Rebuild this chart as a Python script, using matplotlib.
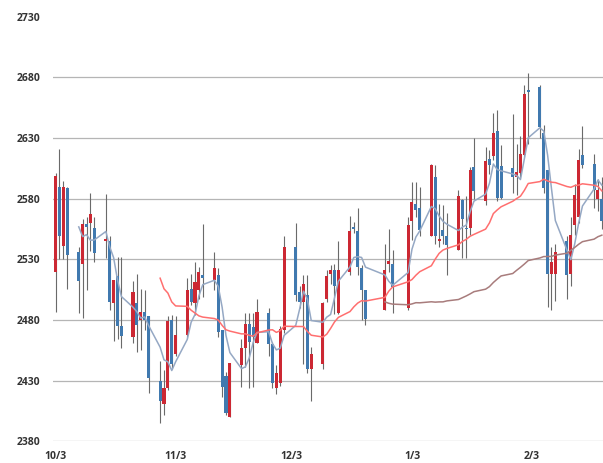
import numpy as np
import pandas as pd
import matplotlib
matplotlib.use("Agg")
import matplotlib.pyplot as plt
import matplotlib.dates as mdates

# daily candles (Oct 3 - Feb 21)
dates = ["2023-10-03", "2023-10-04", "2023-10-05", "2023-10-06",
         "2023-10-09", "2023-10-10", "2023-10-11", "2023-10-12", "2023-10-13",
         "2023-10-16", "2023-10-17", "2023-10-18", "2023-10-19", "2023-10-20",
         "2023-10-23", "2023-10-24", "2023-10-25", "2023-10-26", "2023-10-27",
         "2023-10-30", "2023-10-31", "2023-11-01", "2023-11-02", "2023-11-03",
         "2023-11-06", "2023-11-07", "2023-11-08", "2023-11-09", "2023-11-10",
         "2023-11-13", "2023-11-14", "2023-11-15", "2023-11-16", "2023-11-17",
         "2023-11-20", "2023-11-21", "2023-11-22", "2023-11-23", "2023-11-24",
         "2023-11-27", "2023-11-28", "2023-11-29", "2023-11-30", "2023-12-01",
         "2023-12-04", "2023-12-05", "2023-12-06", "2023-12-07", "2023-12-08",
         "2023-12-11", "2023-12-12", "2023-12-13", "2023-12-14", "2023-12-15",
         "2023-12-18", "2023-12-19", "2023-12-20", "2023-12-21", "2023-12-22",
         "2023-12-27", "2023-12-28", "2023-12-29",
         "2024-01-02", "2024-01-03", "2024-01-04", "2024-01-05",
         "2024-01-08", "2024-01-09", "2024-01-10", "2024-01-11", "2024-01-12",
         "2024-01-15", "2024-01-16", "2024-01-17", "2024-01-18", "2024-01-19",
         "2024-01-22", "2024-01-23", "2024-01-24", "2024-01-25", "2024-01-26",
         "2024-01-29", "2024-01-30", "2024-01-31", "2024-02-01", "2024-02-02",
         "2024-02-05", "2024-02-06", "2024-02-07", "2024-02-08", "2024-02-09",
         "2024-02-12", "2024-02-13", "2024-02-14", "2024-02-15", "2024-02-16",
         "2024-02-19", "2024-02-20", "2024-02-21"]

opens = [2520, 2590, 2541, 2589,
         2536, 2526, 2559, 2560, 2556,
         2545, 2545, 2494, 2516, 2475,
         2466, 2494, 2480, 2487, 2483,
         2430, 2411, 2424, 2480, 2452,
         2468, 2506, 2494, 2505, 2517,
         2513, 2517, 2472, 2434, 2400,
         2443, 2457, 2477, 2474, 2461,
         2486, 2460, 2424, 2428, 2472,
         2540, 2503, 2495, 2501, 2440,
         2444, 2497, 2518, 2521, 2486,
         2520, 2557, 2553, 2523, 2505,
         2488, 2526, 2526,
         2490, 2562, 2576, 2572,
         2549, 2598, 2545, 2554, 2549,
         2538, 2579, 2556, 2556, 2606,
         2578, 2613, 2615, 2636, 2607,
         2605, 2598, 2601, 2616, 2670,
         2672, 2634, 2604, 2518, 2518,
         2545, 2518, 2558, 2565, 2616,
         2609, 2580, 2580]

highs = [2601, 2621, 2595, 2590,
         2540, 2563, 2565, 2585, 2565,
         2584, 2549, 2513, 2532, 2532,
         2512, 2518, 2506, 2505, 2483,
         2446, 2439, 2483, 2484, 2483,
         2515, 2518, 2528, 2524, 2559,
         2536, 2523, 2472, 2437, 2445,
         2464, 2486, 2486, 2486, 2497,
         2490, 2462, 2443, 2475, 2549,
         2560, 2508, 2517, 2517, 2458,
         2495, 2521, 2525, 2526, 2545,
         2566, 2561, 2572, 2525, 2505,
         2543, 2555, 2538,
         2565, 2594, 2594, 2590,
         2609, 2608, 2576, 2575, 2568,
         2587, 2580, 2582, 2606, 2630,
         2623, 2620, 2651, 2653, 2624,
         2650, 2625, 2632, 2674, 2684,
         2674, 2641, 2604, 2540, 2543,
         2549, 2565, 2592, 2621, 2640,
         2617, 2596, 2598]

lows = [2487, 2530, 2530, 2506,
        2486, 2482, 2505, 2537, 2528,
        2531, 2488, 2463, 2464, 2457,
        2461, 2454, 2455, 2472, 2420,
        2395, 2402, 2422, 2440, 2450,
        2465, 2492, 2484, 2497, 2499,
        2505, 2466, 2417, 2402, 2400,
        2425, 2441, 2424, 2425, 2461,
        2450, 2424, 2419, 2426, 2469,
        2496, 2490, 2444, 2436, 2413,
        2440, 2495, 2510, 2485, 2485,
        2517, 2552, 2517, 2480, 2476,
        2488, 2520, 2486,
        2488, 2546, 2565, 2549,
        2549, 2543, 2540, 2543, 2517,
        2538, 2531, 2531, 2550, 2580,
        2575, 2600, 2612, 2578, 2580,
        2585, 2583, 2598, 2614, 2625,
        2630, 2585, 2491, 2488, 2496,
        2497, 2508, 2550, 2560, 2605,
        2572, 2570, 2555]

closes = [2599, 2549, 2590, 2534,
          2512, 2559, 2557, 2567, 2535,
          2547, 2495, 2513, 2475, 2467,
          2503, 2476, 2487, 2480, 2432,
          2413, 2424, 2479, 2444, 2468,
          2505, 2495, 2511, 2520, 2515,
          2523, 2470, 2425, 2403, 2445,
          2457, 2477, 2462, 2466, 2487,
          2460, 2428, 2436, 2473, 2540,
          2501, 2495, 2510, 2440, 2452,
          2494, 2516, 2521, 2508, 2521,
          2553, 2555, 2524, 2505, 2481,
          2521, 2529, 2507,
          2558, 2577, 2571, 2554,
          2608, 2549, 2547, 2549, 2542,
          2582, 2563, 2555, 2604, 2586,
          2611, 2608, 2634, 2581, 2581,
          2598, 2602, 2617, 2666, 2668,
          2639, 2589, 2518, 2528, 2536,
          2517, 2550, 2583, 2612, 2608,
          2587, 2587, 2562]

ma_periods = [5, 20, 60]
ma_colors = ["#95a8c4", "#ff6f6f", "#a87c7c"]

tick_dates = ["2023-10-03", "2023-11-03", "2023-12-03", "2024-01-03", "2024-02-03"]
tick_labels = ["10/3", "11/3", "12/3", "1/3", "2/3"]
y_ticks = [2380, 2430, 2480, 2530, 2580, 2630, 2680, 2730]

df = pd.DataFrame({"open": opens, "high": highs, "low": lows, "close": closes},
                  index=pd.to_datetime(dates))
x = mdates.date2num(df.index.to_pydatetime())

up = df["close"] >= df["open"]
body_lo = np.minimum(df["open"], df["close"])
body_h = np.maximum(np.abs(df["close"] - df["open"]), 0.9)

fig = plt.figure(figsize=(6.03, 4.63), dpi=100)
ax = fig.add_axes([53 / 603, 1 - 441.4 / 463, 1 - 53 / 603, (441.4 - 16.7) / 463])

for yv in y_ticks[:-1]:
    ax.axhline(yv, color="#b5b5b5", lw=0.9, zorder=0)

ax.vlines(x, df["low"], df["high"], color="#6a6a6a", lw=0.8, zorder=1)
ax.bar(x[up], body_h[up], bottom=body_lo[up], width=0.78, color="#cc2833", lw=0, zorder=2)
ax.bar(x[~up], body_h[~up], bottom=body_lo[~up], width=0.78, color="#4079af", lw=0, zorder=2)

for n, col in zip(ma_periods, ma_colors):
    ma = df["close"].rolling(n).mean()
    ax.plot(x, ma, color=col, lw=1.1, zorder=3)

x0 = mdates.date2num(pd.Timestamp(dates[0]).to_pydatetime())
ax.set_xlim(x0 - 0.65, x0 + 141.3)
ax.set_ylim(2380, 2730)

ax.set_xticks(mdates.date2num(pd.to_datetime(tick_dates).to_pydatetime()))
ax.set_xticklabels(tick_labels)
ax.set_yticks(y_ticks)
ax.set_yticklabels([str(v) for v in y_ticks])
for lab in ax.get_xticklabels() + ax.get_yticklabels():
    lab.set_fontfamily("Open Sans")
    lab.set_fontweight("bold")
    lab.set_fontsize(7.5)
    lab.set_color("#333333")
for lab in ax.get_yticklabels():
    lab.set_horizontalalignment("left")
ax.tick_params(axis="both", length=0)
ax.tick_params(axis="y", pad=26)
ax.tick_params(axis="x", pad=7)
for s in ax.spines.values():
    s.set_visible(False)

plt.savefig("out.png", dpi=100)
